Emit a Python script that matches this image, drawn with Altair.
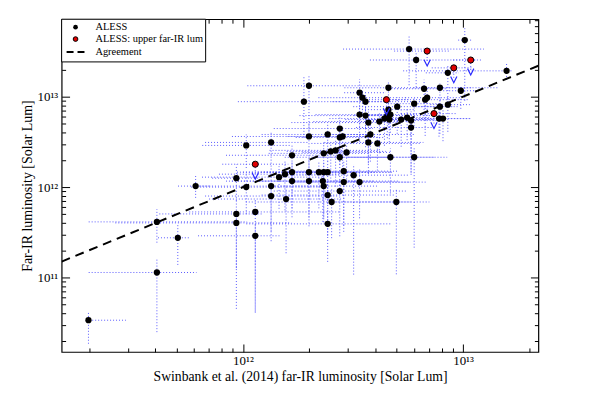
import altair as alt
import numpy as np
import pandas as pd

# ---- data (log10 of luminosity) ----
x_log = [13.008, 12.755, 12.787, 12.931, 13.198, 12.300, 12.661, 12.823, 12.895, 12.990,
         12.530, 12.543, 12.837, 12.828, 12.277, 12.557, 12.701, 12.778, 12.895, 12.931,
         12.661, 12.530, 12.557, 12.656, 12.670, 12.643, 12.620, 12.665, 12.570, 12.719,
         12.746, 12.764, 12.764, 12.891, 12.909, 12.440, 12.385, 12.300, 12.440, 12.453,
         12.579, 12.570, 12.611, 12.128, 12.015, 12.223, 12.367, 12.399, 12.421, 12.471,
         12.440, 12.670, 12.778, 12.191, 12.164, 12.223, 12.300, 12.345, 12.367, 12.385,
         12.458, 12.503, 12.530, 11.970, 12.015, 12.223, 12.300, 12.363, 12.458, 12.128,
         12.367, 12.440, 12.128, 12.196, 12.385, 12.403, 12.697, 11.785, 11.970, 12.056,
         11.609, 11.970, 12.385, 11.704, 12.056, 11.609, 11.298]
y_log = [13.626, 13.527, 13.406, 13.264, 13.286, 13.121, 13.099, 13.088, 13.099, 13.066,
         13.044, 12.989, 12.989, 12.967, 12.945, 12.945, 12.890, 12.923, 12.890, 12.912,
         12.857, 12.802, 12.791, 12.791, 12.802, 12.758, 12.725, 12.747, 12.714, 12.747,
         12.769, 12.736, 12.659, 12.758, 12.758, 12.648, 12.582, 12.560, 12.549, 12.560,
         12.582, 12.494, 12.483, 12.494, 12.461, 12.352, 12.373, 12.395, 12.406, 12.384,
         12.330, 12.330, 12.330, 12.143, 12.110, 12.165, 12.165, 12.165, 12.165, 12.165,
         12.176, 12.132, 12.055, 12.099, 12.000, 12.066, 12.066, 12.066, 12.055, 12.011,
         12.011, 11.956, 11.901, 11.868, 11.912, 11.835, 11.835, 12.011, 11.703, 11.725,
         11.615, 11.604, 11.593, 11.439, 11.461, 11.055, 10.527]
x_err_lo = [.03, .30, .21, .10, .47, .28, .20, .15, .12, .08, .07, .20, .10, .15, .30, .15, .20, .12, .10, .08,
            .12, .20, .30, .15, .10, .25, .30, .20, .35, .15, .12, .20, .25, .12, .10, .30, .30, .35, .20, .25,
            .20, .20, .30, .30, .20, .30, .25, .20, .30, .20, .25, .35, .30, .30, .35, .25, .30, .25, .30, .20,
            .25, .30, .30, .11, .25, .30, .35, .30, .25, .35, .25, .30, .30, .35, .30, .39, .30, .08, .35, .30,
            .31, .55, .37, .09, .26, .31, .01]
x_err_hi = [.03, .34, .27, .05, .03, .33, .50, .10, .15, .08, .12, .20, .15, .20, .40, .25, .25, .12, .08, .10,
            .12, .15, .10, .20, .12, .10, .15, .20, .15, .15, .10, .15, .10, .15, .12, .15, .20, .30, .20, .15,
            .20, .25, .20, .17, .20, .25, .20, .25, .20, .20, .25, .20, .15, .25, .20, .30, .30, .25, .30, .30,
            .25, .25, .30, .10, .35, .30, .30, .35, .30, .25, .25, .30, .30, .25, .30, .36, .15, .07, .12, .39,
            .41, .25, .29, .05, .11, .18, .17]
y_err_lo = [.67, .40, .30, .30, .10, .50, .25, .30, .35, .20, .35, .20, .20, .40, .40, .30, .30, .25, .30, .30,
            .20, .30, .35, .25, .20, .30, .35, .25, .45, .30, .25, .60, .50, .20, .25, .35, .30, .35, .30, .40,
            .30, .35, .30, .30, .25, .30, .35, .30, .40, .30, .35, .40, 1.00, .40, .35, .40, .50, .40, .50, .35,
            .60, 1.10, .40, .25, .30, .40, .50, .45, .55, .50, .40, .50, .50, .60, .45, .40, .80, .13, 1.05, 1.10,
            .23, .50, .42, .30, .85, .66, .26]
y_err_hi = [.13, .14, .08, .08, .08, .11, .08, .10, .05, .05, .15, .10, .10, .10, .28, .10, .10, .08, .10, .08,
            .10, .10, .10, .10, .08, .10, .10, .10, .12, .10, .10, .10, .10, .10, .10, .12, .12, .15, .12, .10,
            .12, .10, .10, .12, .12, .12, .12, .10, .12, .10, .12, .10, .12, .15, .12, .12, .15, .12, .12, .12,
            .12, .12, .15, .15, .15, .15, .12, .12, .15, .15, .12, .12, .15, .15, .15, .15, .15, .12, .15, .13,
            .14, .10, .15, .14, .12, .16, .10]

# upper far-IR luminosity sources (red)
red_x_log = [12.837, 13.035, 12.958, 12.652, 12.868, 12.056]
red_y_log = [13.505, 13.406, 13.319, 12.967, 12.813, 12.253]
red_x_err_lo = [.15, .08, .10, .12, .15, .15]
red_x_err_hi = [.10, .05, .08, .10, .10, .15]
upper_arrow_dex = 0.13

agreement = [1.5e11, 2.2e13]
x_domain = [1.5e11, 2.2e13]
y_domain = [1.5e10, 7.2e13]
x_label_values = [1e12, 1e13]
y_label_values = [1e11, 1e12, 1e13]
x_tick_values = [m * 10.0 ** e for e in (11, 12, 13) for m in range(1, 10)
                 if x_domain[0] <= m * 10.0 ** e <= x_domain[1]]
y_tick_values = [m * 10.0 ** e for e in (10, 11, 12, 13) for m in range(1, 10)
                 if y_domain[0] <= m * 10.0 ** e <= y_domain[1]]

x_title = "Swinbank et al. (2014) far-IR luminosity [Solar Lum]"
y_title = "Far-IR luminosity [Solar Lum]"
legend_labels = ["ALESS", "ALESS: upper far-IR lum", "Agreement"]

# ---- tables ----
xl = np.array(x_log); yl = np.array(y_log)
df = pd.DataFrame({
    "x": 10 ** xl, "y": 10 ** yl,
    "xlo": 10 ** (xl - np.array(x_err_lo)), "xhi": 10 ** (xl + np.array(x_err_hi)),
    "ylo": 10 ** (yl - np.array(y_err_lo)), "yhi": 10 ** (yl + np.array(y_err_hi)),
})
rxl = np.array(red_x_log); ryl = np.array(red_y_log)
red = pd.DataFrame({
    "x": 10 ** rxl, "y": 10 ** ryl,
    "xlo": 10 ** (rxl - np.array(red_x_err_lo)), "xhi": 10 ** (rxl + np.array(red_x_err_hi)),
    "ytip": 10 ** (ryl - upper_arrow_dex),
})
agree_df = pd.DataFrame({"x": agreement, "y": agreement})
one = pd.DataFrame({"a": [0]})

# ---- styling ----
W, H = 480, 335
FONT = "'Liberation Serif', 'Times New Roman', serif"
EB = "#5a5aff"
xs = alt.Scale(type="log", domain=x_domain, nice=False)
ys = alt.Scale(type="log", domain=y_domain, nice=False)
major_test = "abs(log(datum.value)/LN10 - round(log(datum.value)/LN10)) < 0.01"
tick_size = {"condition": {"test": major_test, "value": 8}, "value": 4}
label_expr = ("'10' + (round(log(datum.value)/LN10) == 11 ? '¹¹' : "
              "(round(log(datum.value)/LN10) == 12 ? '¹²' : '¹³'))")


def tick_axis(orient, offset, values):
    return alt.Axis(orient=orient, offset=offset, values=values, labels=False,
                    domain=False, grid=False, ticks=True, tickSize=tick_size,
                    tickColor="black", tickWidth=1)


x_label_axis = alt.Axis(orient="bottom", values=x_label_values, labelExpr=label_expr,
                        ticks=False, domain=False, grid=False, labelFont=FONT,
                        labelFontSize=13, labelColor="black", labelPadding=3,
                        titleFont=FONT, titleFontSize=13.8, titleFontWeight="normal",
                        titleColor="black", titlePadding=2)
y_label_axis = alt.Axis(orient="left", values=y_label_values, labelExpr=label_expr,
                        ticks=False, domain=False, grid=False, labelFont=FONT,
                        labelFontSize=13, labelColor="black", labelPadding=4,
                        titleFont=FONT, titleFontSize=14, titleFontWeight="normal",
                        titleColor="black", titlePadding=3)

xerr = alt.Chart(df).mark_rule(color=EB, strokeDash=[1, 2], strokeWidth=1, clip=True).encode(
    x=alt.X("xlo:Q", scale=xs, axis=x_label_axis, title=x_title), x2="xhi:Q",
    y=alt.Y("y:Q", scale=ys, axis=y_label_axis, title=y_title))
yerr = alt.Chart(df).mark_rule(color=EB, strokeDash=[1, 2], strokeWidth=1, clip=True).encode(
    x=alt.X("x:Q", scale=xs, axis=tick_axis("top", -H, x_tick_values), title=""),
    y=alt.Y("ylo:Q", scale=ys, axis=tick_axis("right", -W, y_tick_values), title=""), y2="yhi:Q")
red_xerr = alt.Chart(red).mark_rule(color=EB, strokeDash=[1, 2], strokeWidth=1, clip=True).encode(
    x=alt.X("xlo:Q", scale=xs, axis=None), x2="xhi:Q", y=alt.Y("y:Q", scale=ys, axis=None))
stem = alt.Chart(red).mark_rule(color=EB, strokeDash=[1, 2], strokeWidth=1).encode(
    x=alt.X("x:Q", scale=xs, axis=None), y=alt.Y("y:Q", scale=ys, axis=None), y2="ytip:Q")
vee = alt.Chart(red).mark_point(shape="M-1,-1L0,1L1,-1", filled=False, color="#2a2aff",
                                strokeWidth=1.2, size=40, opacity=1).encode(
    x=alt.X("x:Q", scale=xs, axis=None), y=alt.Y("ytip:Q", scale=ys, axis=None))
line = alt.Chart(agree_df).mark_line(color="black", strokeWidth=2, strokeDash=[9, 6], clip=True).encode(
    x=alt.X("x:Q", scale=xs, axis=None), y=alt.Y("y:Q", scale=ys, axis=None))
pts = alt.Chart(df).mark_circle(size=40, color="black", opacity=1).encode(
    x=alt.X("x:Q", scale=xs, axis=tick_axis("bottom", -H, x_tick_values), title=""),
    y=alt.Y("y:Q", scale=ys, axis=tick_axis("left", -W, y_tick_values), title=""))
red_pts = alt.Chart(red).mark_circle(size=38, fill="#e00000", stroke="black", strokeWidth=1, opacity=1).encode(
    x=alt.X("x:Q", scale=xs, axis=None), y=alt.Y("y:Q", scale=ys, axis=None))

# ---- legend ----
box = alt.Chart(one).mark_rect(fill="white", stroke="black", strokeWidth=1).encode(
    x=alt.value(0), x2=alt.value(145), y=alt.value(0), y2=alt.value(43))
leg_black = alt.Chart(one).mark_circle(size=22, color="black", opacity=1).encode(
    x=alt.value(14), y=alt.value(8))
leg_red = alt.Chart(one).mark_circle(size=22, fill="#e00000", stroke="black", strokeWidth=1, opacity=1).encode(
    x=alt.value(14), y=alt.value(20))
leg_dash = alt.Chart(one).mark_rule(color="black", strokeWidth=2, strokeDash=[7, 4]).encode(
    x=alt.value(5), x2=alt.value(24), y=alt.value(33))
leg_txt = [
    alt.Chart(one).mark_text(text=t, align="left", baseline="middle", font=FONT, fontSize=10.5,
                             color="black").encode(x=alt.value(34), y=alt.value(yy))
    for t, yy in zip(legend_labels, [8, 20, 33])
]

chart = alt.layer(xerr, yerr, red_xerr, stem, line, pts, red_pts, vee, box, leg_black, leg_red,
                  leg_dash, *leg_txt).properties(
    width=W, height=H,
    autosize=alt.AutoSizeParams(type="none"),
    padding={"left": 54, "top": 10, "right": 55, "bottom": 32},
    background="white",
).configure_view(stroke="black", strokeWidth=1.2)

chart.save("out.html", embed_options={"renderer": "svg", "actions": False})
